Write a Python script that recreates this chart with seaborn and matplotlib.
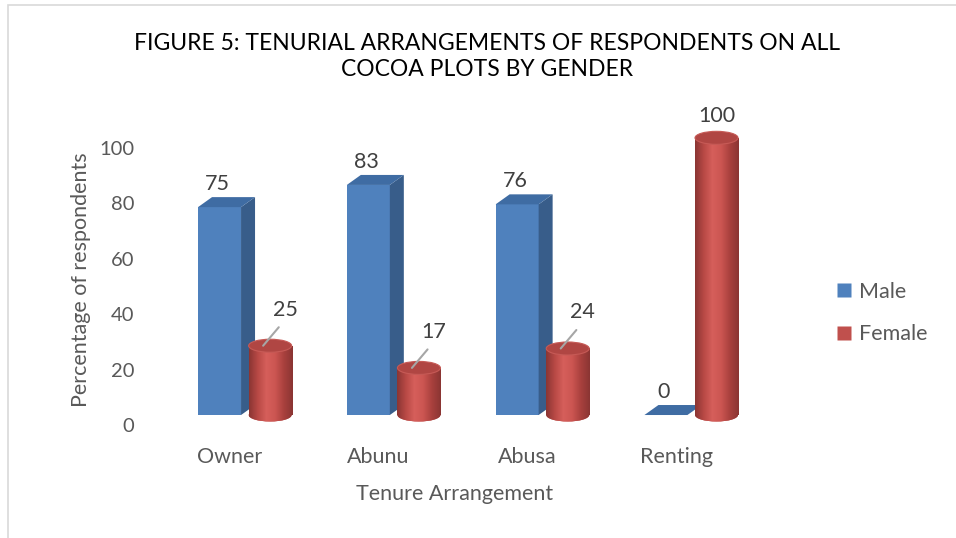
import numpy as np
import pandas as pd
import matplotlib
matplotlib.use("Agg")
import matplotlib.pyplot as plt
import matplotlib.transforms as mtransforms
from matplotlib.patches import Polygon, Ellipse, Rectangle
from matplotlib.colors import LinearSegmentedColormap
from matplotlib.lines import Line2D
import seaborn as sns

# data
categories = ["Owner", "Abunu", "Abusa", "Renting"]
genders = ["Male", "Female"]
male = [75, 83, 76, 0]
female = [25, 17, 24, 100]
yticks = [0, 20, 40, 60, 80, 100]

df = pd.DataFrame({
    "Tenure": categories * 2,
    "Gender": ["Male"] * len(categories) + ["Female"] * len(categories),
    "Percent": male + female,
})

sns.set_theme(style="white")
plt.rcParams["font.family"] = ["Lato", "DejaVu Sans"]

BLUE = "#4F81BD"
BLUE_SIDE = "#385D8A"
BLUE_TOP = "#3F6CA3"
RED = "#C0504D"
RED_TOP = "#B04643"
GREY_TXT = "#595959"

fig = plt.figure(figsize=(9.56, 5.38), dpi=100)
ax = fig.add_axes([0.1464, 0.210, 0.659, 0.541])
sns.barplot(df, x="Tenure", y="Percent", hue="Gender", hue_order=genders,
            palette=[BLUE, RED], width=0.68, gap=0.15, saturation=1,
            errorbar=None, legend=False, linewidth=0, ax=ax)
ax.set_xlim(-0.604, 3.63)
ax.set_ylim(0, 105)
ax.set_yticks(yticks)
for s in ax.spines.values():
    s.set_visible(False)
ax.tick_params(axis="both", length=0, labelcolor=GREY_TXT)
ax.tick_params(axis="y", pad=4, labelsize=14.5)
ax.tick_params(axis="x", pad=16, labelsize=15.5)
ax.set_xlabel("Tenure Arrangement", fontsize=15.5, color=GREY_TXT, labelpad=12)
ax.set_ylabel("Percentage of respondents", fontsize=15.5, color=GREY_TXT, labelpad=6)

# pseudo 3-D: bars sit slightly behind/right of the axis labels
px = fig.dpi_scale_trans
shift = ax.transData + mtransforms.ScaledTranslation(0.15, 0.10, px)
p0 = ax.transData.transform((0, 0))
p1 = ax.transData.transform((1, 1))
sx, sy = p1[0] - p0[0], p1[1] - p0[1]
ddx, ddy = 14 / sx, 10 / sy
eh = 13 / sy

cyl_cmap = LinearSegmentedColormap.from_list(
    "cyl", ["#8A3533", "#B84945", "#D65F5B", "#CB5551", "#A8403D", "#8A3533"])
grad = np.linspace(0, 1, 256).reshape(1, -1)

male_bars, female_bars = ax.containers[0], ax.containers[1]

for p in male_bars.patches:
    x0, w, h = p.get_x(), p.get_width(), p.get_height()
    p.set_transform(shift)
    p.set_clip_on(False)
    p.set_zorder(2)
    side = Polygon([(x0 + w, 0), (x0 + w, h), (x0 + w + ddx, h + ddy), (x0 + w + ddx, ddy)],
                   closed=True, facecolor=BLUE_SIDE, edgecolor="none",
                   transform=shift, clip_on=False, zorder=2)
    top = Polygon([(x0, h), (x0 + w, h), (x0 + w + ddx, h + ddy), (x0 + ddx, h + ddy)],
                  closed=True, facecolor=BLUE_TOP, edgecolor="none",
                  transform=shift, clip_on=False, zorder=2)
    ax.add_patch(side)
    ax.add_patch(top)
    ax.annotate(f"{h:.0f}", xy=(x0 + w / 2, h), xycoords=shift, xytext=(-2, 23),
                textcoords="offset pixels", ha="center", va="center",
                fontsize=15.5, color="#404040", annotation_clip=False)

leader_from = shift + mtransforms.ScaledTranslation(-0.07, 0.0, px)

for p in female_bars.patches:
    x0, w, h = p.get_x(), p.get_width(), p.get_height()
    cx = x0 + w / 2
    p.set_transform(shift)
    p.set_clip_on(False)
    p.set_zorder(3)
    bottom = Ellipse((cx, 0), w, eh, transform=shift, facecolor=RED,
                     edgecolor="none", zorder=3, clip_on=False)
    ax.add_patch(bottom)
    for clip in (p, bottom):
        im = ax.imshow(grad, extent=(x0, x0 + w, -eh, h), aspect="auto",
                       cmap=cyl_cmap, transform=shift, zorder=3.5, interpolation="bilinear")
        im.set_clip_path(clip)
    cap = Ellipse((cx, h), w, eh, transform=shift, facecolor=RED_TOP,
                  edgecolor="#C65A56", linewidth=0.8, zorder=4, clip_on=False)
    ax.add_patch(cap)
    if h < 50:
        # label moved up-right, with a grey leader line to the cylinder top
        ax.annotate(f"{h:.0f}", xy=(cx, h), xycoords=leader_from, xytext=(22, 36),
                    textcoords="offset pixels", ha="center", va="center",
                    fontsize=15.5, color="#404040", annotation_clip=False,
                    arrowprops=dict(arrowstyle="-", color="#A6A6A6", lw=1.5,
                                    shrinkA=4, shrinkB=0, relpos=(0.5, 0.0)),
                    zorder=5)
    else:
        ax.annotate(f"{h:.0f}", xy=(cx, h), xycoords=shift, xytext=(0, 22),
                    textcoords="offset pixels", ha="center", va="center",
                    fontsize=15.5, color="#404040", annotation_clip=False)

ax.set_xlim(-0.604, 3.63)
ax.set_ylim(0, 105)

# legend
handles = [Line2D([], [], marker="s", linestyle="none", markersize=10,
                  markerfacecolor=c, markeredgecolor="none") for c in (BLUE, RED)]
leg = fig.legend(handles, genders, loc="center left", bbox_to_anchor=(0.852, 0.418),
                 frameon=False, fontsize=15.5, labelspacing=1.05, handletextpad=0.25,
                 handlelength=0.9, labelcolor=GREY_TXT)

fig.text(0.509, 0.920, "FIGURE 5: TENURIAL ARRANGEMENTS OF RESPONDENTS ON ALL",
         ha="center", va="center", fontsize=16.5, color="black")
fig.text(0.509, 0.870, "COCOA PLOTS BY GENDER",
         ha="center", va="center", fontsize=16.5, color="black")

fig.patches.append(Rectangle((8 / 956, -0.02), 1.0, 1.0 - 5 / 538 + 0.02,
                             transform=fig.transFigure, fill=False,
                             edgecolor="#D9D9D9", linewidth=1.2))

fig.savefig("out.png", dpi=100)
